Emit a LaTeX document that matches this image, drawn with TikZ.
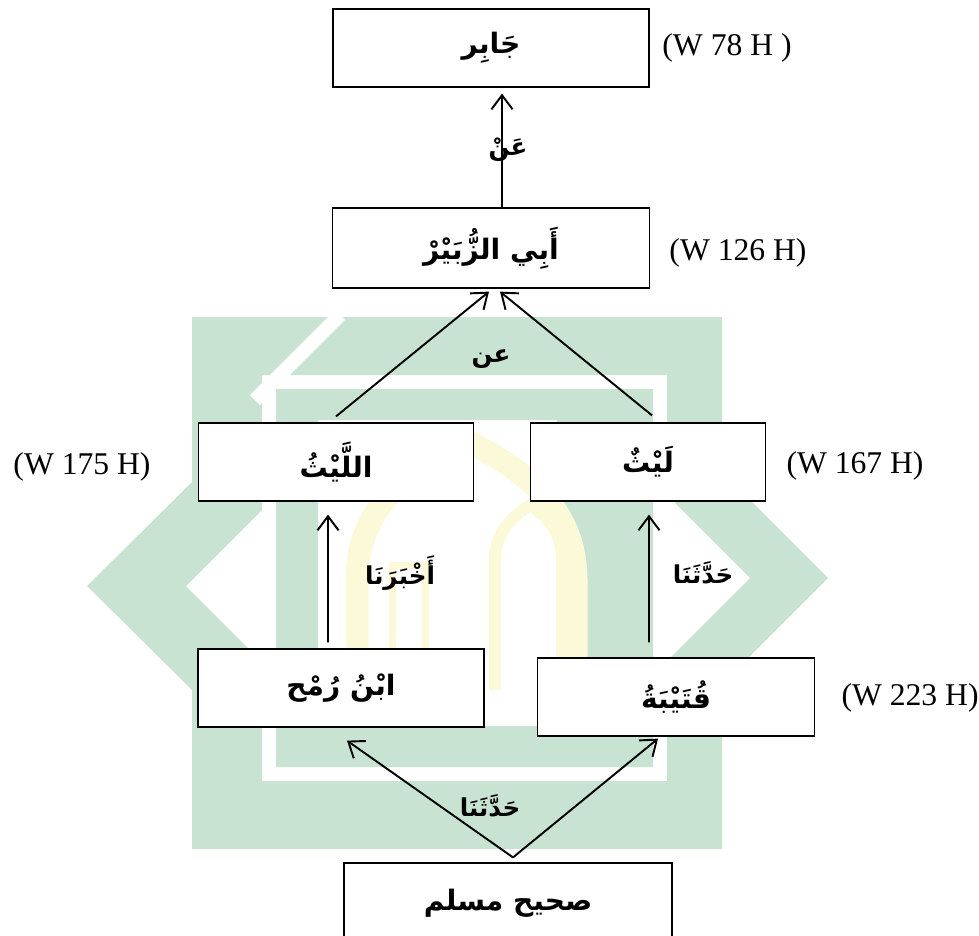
\documentclass[tikz,border=0pt]{standalone}
\usepackage{fontspec}
\setmainfont{Liberation Serif}
\newfontfamily\arabicfont[Script=Arabic]{DejaVu Sans}
\TeXXeTstate=1
\usepackage{tikz}
\usetikzlibrary{arrows.meta}

\definecolor{logogreen}{RGB}{201,227,211}
\definecolor{logoyellow}{RGB}{252,249,216}
\newcommand{\artext}[1]{\arabicfont\bfseries\beginR #1\endR}

\begin{document}
\begin{tikzpicture}[x=0.2mm, y=-0.2mm,
  rawi/.style={draw, line width=0.7pt, fill=white, inner sep=0pt, minimum height=15.6mm, font=\fontsize{16}{18}\selectfont},
  sigah/.style={font=\fontsize{14}{16}\selectfont},
  wafat/.style={font=\fontsize{18}{20}\selectfont},
  arr/.style={-{Straight Barb[length=8pt,width=12pt]}, line width=1.1pt}
]
\path[use as bounding box] (0,0) rectangle (979,935);
\clip (0,0) rectangle (979,935);

% Background logo: outer frame, inner frame, arch
\fill[logogreen, even odd rule]
  (192,317) -- (722,317) -- (722,472) -- (828,578) -- (722,684) -- (722,849)
  -- (192,849) -- (192,690) -- (87,586) -- (192,482) -- cycle
  (262,375) -- (667,375) -- (667,495) -- (750,578) -- (667,661) -- (667,781)
  -- (262,781) -- (262,662) -- (186,586) -- (262,510) -- cycle;
\fill[logogreen, even odd rule]
  (276,389) -- (653,389) -- (653,767) -- (276,767) -- cycle
  (318,420) -- (557,420) -- (557,726) -- (318,726) -- cycle;
\draw[white, line width=2.8mm] (255,400) -- (340,315);
\draw[logoyellow, line width=4.6mm]
  (357,690) -- (357,580) .. controls (357,500) and (420,465) .. (466,440)
  .. controls (512,465) and (576,500) .. (576,580) -- (576,690);
\draw[logoyellow, line width=2.4mm]
  (495,690) -- (495,560) .. controls (495,530) and (515,515) .. (530,505)
  .. controls (545,515) and (562,530) .. (562,560) -- (562,690);
\draw[logoyellow, line width=1.4mm] (392,650) -- (392,565) -- (425,565) -- (425,650);

% Narrators
\node[rawi, minimum width=63.2mm] (jabir) at (491,48) {\artext{جَابِر}};
\node[rawi, minimum width=63.4mm, minimum height=16mm] (zubair) at (491,248) {\artext{أَبِي الزُّبَيْرْ}};
\node[rawi, minimum width=55mm] (allaith) at (336,462) {\artext{اللَّيْثُ}};
\node[rawi, minimum width=47mm] (laith) at (648,462) {\artext{لَيْثٌ}};
\node[rawi, minimum width=57.2mm] (ibnrumh) at (341,688) {\artext{ابْنُ رُمْح}};
\node[rawi, minimum width=55.4mm] (qutaibah) at (676,697) {\artext{قُتَيْبَةُ}};
\node[rawi, minimum width=65.6mm, minimum height=16mm] (muslim) at (508,903) {\artext{صحيح مسلم}};

% Death years
\node[wafat] (wjabir) at (727,48) {(W 78 H )};
\node[wafat] (wzubair) at (738,253) {(W 126 H)};
\node[wafat] (wallaith) at (82,467) {(W 175 H)};
\node[wafat] (wlaith) at (855,466) {(W 167 H)};
\node[wafat] (wqutaibah) at (910,698) {(W 223 H)};

% Transmission
\draw[arr] ([xshift=2.2mm]zubair.north) -- ([xshift=2.2mm,yshift=-1.2mm]jabir.south);
\draw[arr] ([yshift=1.2mm]allaith.north) -- ([xshift=-0.4mm,yshift=-0.6mm]zubair.south);
\draw[arr] ([xshift=0.8mm,yshift=1.4mm]laith.north) -- ([xshift=1.8mm,yshift=-0.6mm]zubair.south);
\draw[arr] ([xshift=-2.6mm,yshift=1.2mm]ibnrumh.north) -- ([xshift=-1.6mm,yshift=-2.6mm]allaith.south);
\draw[arr] ([xshift=-5.4mm,yshift=3mm]qutaibah.north) -- ([xshift=0.2mm,yshift=-2.6mm]laith.south);
\draw[arr] ([xshift=1mm,yshift=1mm]muslim.north) coordinate (apex) -- ([xshift=1.2mm,yshift=-2.6mm]ibnrumh.south);
\draw[arr] (apex) -- ([xshift=-3.6mm,yshift=-0.4mm]qutaibah.south);

% Transmission terms
\node[sigah] (an1) at (508,150) {\artext{عَنْ}};
\node[sigah] (an2) at (491,359) {\artext{عن}};
\node[sigah] (akhbarana) at (400,573) {\artext{أَخْبَرَنَا}};
\node[sigah] (haddathana1) at (703,573) {\artext{حَدَّثَنَا}};
\node[sigah] (haddathana2) at (490,806) {\artext{حَدَّثَنَا}};
\end{tikzpicture}
\end{document}
